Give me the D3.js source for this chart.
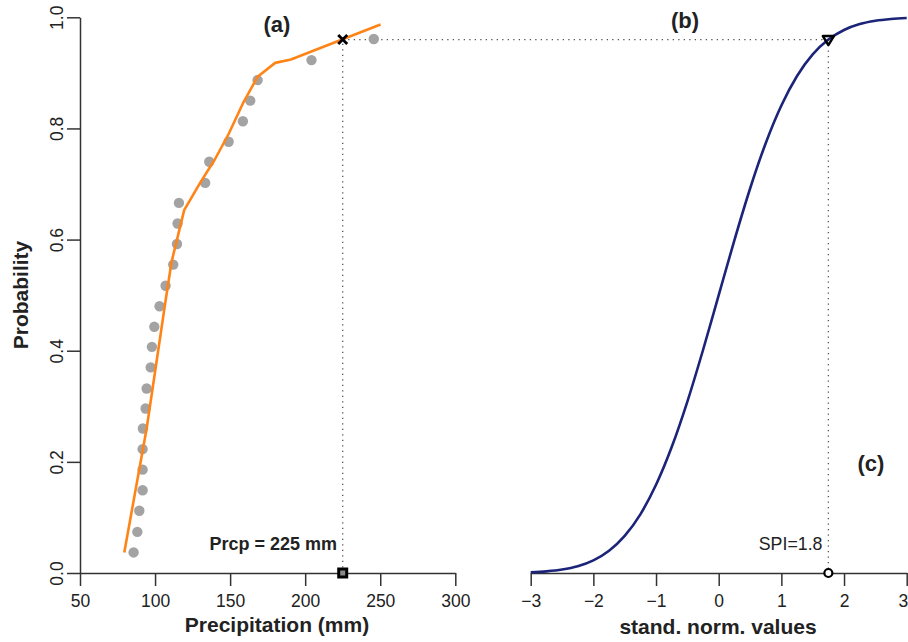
<!DOCTYPE html>
<html>
<head>
<meta charset="utf-8">
<script src="https://cdn.jsdelivr.net/npm/d3@7"></script>
<style>
  html, body { margin: 0; padding: 0; background: #fff; }
  svg { display: block; font-family: "Liberation Sans", Arial, sans-serif; }
</style>
</head>
<body>
<svg id="chart" width="908" height="642"></svg>
<script>
// ---- data ----
const obsPrecip = [85.7, 88.2, 89.5, 91.7, 91.7, 91.7, 91.9, 93.7, 94.4, 97.1, 97.9, 99.5, 103.0,
                   107.0, 112.1, 114.6, 115.0, 115.9, 133.4, 136.1, 149.0, 158.5, 163.4, 168.3, 204.2, 245.7];
const obsProb   = [0.037, 0.074, 0.112, 0.149, 0.186, 0.223, 0.260, 0.296, 0.332, 0.370, 0.407, 0.443, 0.480,
                   0.517, 0.555, 0.592, 0.629, 0.666, 0.702, 0.740, 0.776, 0.813, 0.850, 0.887, 0.923, 0.961];
const fitPrecip = [79.5, 94.4, 107.0, 111.0, 119.4, 130.0, 140.0, 149.0, 158.5, 168.3, 180.0, 190.5, 224.6, 250.2];
const fitProb   = [0.037, 0.260, 0.490, 0.560, 0.653, 0.702, 0.745, 0.790, 0.845, 0.893, 0.918, 0.924, 0.960, 0.987];
const zVals     = [-3, -2.75, -2.5, -2.25, -2, -1.75, -1.5, -1.25, -1, -0.75, -0.5, -0.25, 0,
                   0.25, 0.5, 0.75, 1, 1.25, 1.5, 1.75, 2, 2.25, 2.5, 2.75, 3];
const zProb     = [0.0013, 0.003, 0.0062, 0.0122, 0.0228, 0.0401, 0.0668, 0.1056, 0.1587, 0.2266, 0.3085, 0.4013, 0.5,
                   0.5987, 0.6915, 0.7734, 0.8413, 0.8944, 0.9332, 0.9599, 0.9772, 0.9878, 0.9938, 0.997, 0.9987];
const precipTicks = [50, 100, 150, 200, 250, 300];
const probTicks   = [0, 0.2, 0.4, 0.6, 0.8, 1.0];
const zTicks      = [-3, -2, -1, 0, 1, 2, 3];
const prcpValue = 225;
const prcpProb  = 0.96;
const spiValue  = 1.75;
const prcpLabel = "Prcp = 225 mm";
const spiLabel  = "SPI=1.8";

// ---- drawing ----
const svg = d3.select("#chart");
const xL = d3.scaleLinear().domain([50, 300]).range([80, 455.3]);
const y  = d3.scaleLinear().domain([0, 1]).range([573, 17.3]);
const xR = d3.scaleLinear().domain([-3, 3]).range([530.7, 906.7]);

const axisColor = "#333";
function styleAxis(g) {
  g.select(".domain").attr("stroke", axisColor).attr("stroke-width", 1.5);
  g.selectAll(".tick line").attr("stroke", axisColor).attr("stroke-width", 1.5);
  g.selectAll(".tick text").attr("fill", "#222").attr("font-size", 17.5);
}

// left x axis
const gxL = svg.append("g").attr("transform", `translate(0,${y(0)})`)
  .call(d3.axisBottom(xL).tickValues(precipTicks).tickSize(13).tickSizeOuter(0).tickPadding(8.5).tickFormat(d3.format("d")));
styleAxis(gxL);
// left y axis
const gy = svg.append("g").attr("transform", `translate(${xL(50)},0)`)
  .call(d3.axisLeft(y).tickValues(probTicks).tickSize(13).tickSizeOuter(0).tickFormat(d3.format(".1f")));
styleAxis(gy);
gy.selectAll(".tick text").attr("transform", "rotate(-90)").attr("x", 0).attr("y", -17).attr("dy", 0)
  .attr("text-anchor", "middle");
// right x axis
const gxR = svg.append("g").attr("transform", `translate(0,${y(0)})`)
  .call(d3.axisBottom(xR).tickValues(zTicks).tickSize(13).tickSizeOuter(0).tickPadding(8.5).tickFormat(d3.format("d")));
styleAxis(gxR);
gxR.selectAll(".tick text").filter(d => d === 3).attr("text-anchor", "end").attr("x", 1);

// axis titles
svg.append("text").attr("x", 277).attr("y", 632).attr("text-anchor", "middle")
  .attr("font-size", 21).attr("font-weight", "bold").attr("fill", "#222").text("Precipitation (mm)");
svg.append("text").attr("x", 718).attr("y", 634).attr("text-anchor", "middle")
  .attr("font-size", 21).attr("font-weight", "bold").attr("fill", "#222").text("stand. norm. values");
svg.append("text").attr("transform", "translate(28,295) rotate(-90)").attr("text-anchor", "middle")
  .attr("font-size", 21).attr("font-weight", "bold").attr("fill", "#222").text("Probability");

// panel labels
svg.append("text").attr("x", 277).attr("y", 32).attr("text-anchor", "middle")
  .attr("font-size", 22).attr("font-weight", "bold").attr("fill", "#222").text("(a)");
svg.append("text").attr("x", 685).attr("y", 28).attr("text-anchor", "middle")
  .attr("font-size", 22).attr("font-weight", "bold").attr("fill", "#222").text("(b)");
svg.append("text").attr("x", 871).attr("y", 471).attr("text-anchor", "middle")
  .attr("font-size", 22).attr("font-weight", "bold").attr("fill", "#222").text("(c)");

// dotted guide lines
const dotStyle = sel => sel.attr("stroke", "#555").attr("stroke-width", 1.3)
  .attr("stroke-dasharray", "1.3,4.2").attr("fill", "none");
svg.append("line").attr("x1", xL(prcpValue)).attr("x2", xL(prcpValue))
  .attr("y1", y(0)).attr("y2", y(prcpProb)).call(dotStyle);
svg.append("line").attr("x1", xL(prcpValue)).attr("x2", xR(spiValue))
  .attr("y1", y(prcpProb)).attr("y2", y(prcpProb)).call(dotStyle);
svg.append("line").attr("x1", xR(spiValue)).attr("x2", xR(spiValue))
  .attr("y1", y(prcpProb)).attr("y2", y(0)).call(dotStyle);

// observed points
svg.append("g").selectAll("circle").data(obsPrecip).join("circle")
  .attr("cx", d => xL(d)).attr("cy", (d, i) => y(obsProb[i])).attr("r", 5.2)
  .attr("fill", "#a3a3a3");

// fitted line (orange)
const fitData = fitPrecip.map((v, i) => [v, fitProb[i]]);
svg.append("path").datum(fitData)
  .attr("d", d3.line().x(d => xL(d[0])).y(d => y(d[1])))
  .attr("fill", "none").attr("stroke", "#ff8417").attr("stroke-width", 2.6).attr("stroke-linejoin", "round");

// normal CDF (navy)
const zData = zVals.map((v, i) => [v, zProb[i]]);
svg.append("path").datum(zData)
  .attr("d", d3.line().x(d => xR(d[0])).y(d => y(d[1])).curve(d3.curveMonotoneX))
  .attr("fill", "none").attr("stroke", "#1b2479").attr("stroke-width", 2.6);

// markers
const mx = xL(prcpValue), my = y(prcpProb);
svg.append("path").attr("d", `M${mx-4.5},${my-4.5}L${mx+4.5},${my+4.5}M${mx-4.5},${my+4.5}L${mx+4.5},${my-4.5}`)
  .attr("stroke", "#000").attr("stroke-width", 2.8).attr("fill", "none");
svg.append("rect").attr("x", mx - 4).attr("y", y(0) - 4).attr("width", 8).attr("height", 8)
  .attr("fill", "#888").attr("stroke", "#000").attr("stroke-width", 3);
const tx = xR(spiValue), ty = y(prcpProb);
svg.append("path").attr("d", `M${tx-5.5},${ty-3.5}L${tx+5.5},${ty-3.5}L${tx},${ty+5.5}Z`)
  .attr("fill", "none").attr("stroke", "#000").attr("stroke-width", 2.5).attr("stroke-linejoin", "round");
svg.append("circle").attr("cx", tx).attr("cy", y(0)).attr("r", 4)
  .attr("fill", "#fff").attr("stroke", "#000").attr("stroke-width", 2.2);

// value labels
svg.append("text").attr("x", 337).attr("y", 550).attr("text-anchor", "end")
  .attr("font-size", 18).attr("font-weight", "bold").attr("fill", "#222").text(prcpLabel);
svg.append("text").attr("x", 822.5).attr("y", 550).attr("text-anchor", "end")
  .attr("font-size", 17.8).attr("fill", "#222").text(spiLabel);
</script>
</body>
</html>
